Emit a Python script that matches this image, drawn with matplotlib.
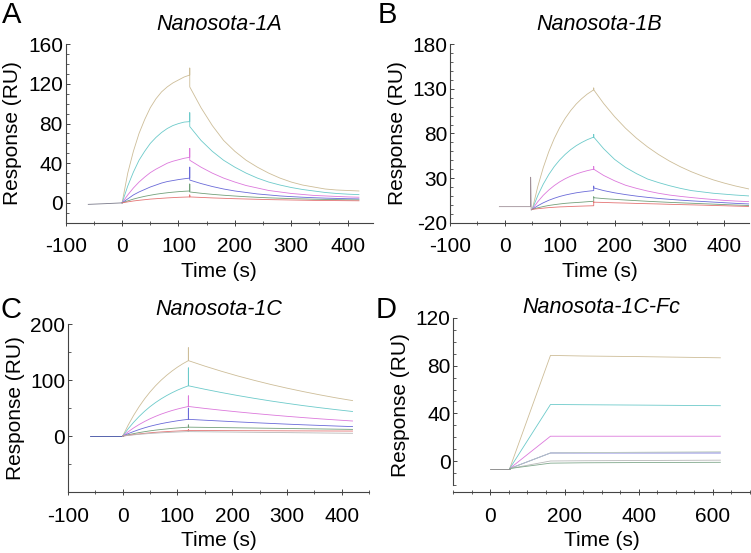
import matplotlib.pyplot as plt
from matplotlib.ticker import MultipleLocator, FixedLocator

plt.rcParams['font.family'] = ['Liberation Sans', 'DejaVu Sans']
plt.rcParams['axes.unicode_minus'] = False

# ---- panel A : Nanosota-1A ----
a_t_base = [-60, -30, 0]
a_base = [-1.5, -0.8, 0]
a_t_assoc = [0, 10, 20, 30, 40, 50, 60, 70, 80, 90, 100, 110, 120]
a_assoc = [
    [0, 30, 52, 70, 84, 96, 105, 112, 117, 121, 124, 127, 129],
    [0, 17, 31, 43, 52, 60, 66, 71, 75, 78, 80, 81.5, 82],
    [0, 8, 15, 21, 26, 30.5, 34, 37, 40, 42, 43.5, 45, 46],
    [0, 4, 8, 11, 13.5, 16, 18, 20, 21.5, 22.5, 23.5, 24.3, 25],
    [0, 2, 3.8, 5.3, 6.6, 7.7, 8.7, 9.5, 10.2, 10.8, 11.3, 11.7, 12],
    [0, 1, 1.9, 2.6, 3.2, 3.8, 4.2, 4.6, 5, 5.3, 5.6, 5.8, 6],
]
a_spike = [136, 91, 55, 36, 19, 8]
a_t_diss = [120, 140, 160, 180, 200, 220, 240, 260, 280, 300, 320, 340, 360, 380, 400, 420]
a_diss = [
    [117, 96, 78, 63, 52, 43, 36, 30, 25, 21, 18, 16, 14, 13, 12.5, 12],
    [77, 63, 52, 43, 36, 30, 25, 21, 18, 15.5, 13.5, 12, 10.5, 9.5, 8.8, 8.3],
    [43, 36, 30, 25, 21, 17.5, 15, 12.5, 11, 9.5, 8.5, 7.5, 7, 6.5, 6, 5.7],
    [23, 19.5, 16.5, 14, 12, 10.5, 9, 8, 7, 6.3, 5.7, 5.2, 4.8, 4.5, 4.2, 4],
    [11, 9.7, 8.6, 7.7, 6.9, 6.2, 5.6, 5.1, 4.7, 4.3, 4, 3.7, 3.5, 3.3, 3.1, 3],
    [6, 5.5, 5, 4.6, 4.2, 3.9, 3.6, 3.3, 3.1, 2.9, 2.7, 2.5, 2.4, 2.3, 2.2, 2.1],
]

# ---- panel B : Nanosota-1B ----
b_t_base = [-10, 47, 47, 48, 50]
b_base = [-2, -2, 31, -6, -5]
b_t_assoc = [50, 60, 70, 80, 90, 100, 110, 120, 130, 140, 150, 162]
b_assoc = [
    [-5, 20.5, 41.7, 59.5, 74.3, 86.7, 97, 105.7, 113, 119, 124.1, 129],
    [-5, 10.4, 23.2, 33.9, 42.9, 50.4, 56.6, 61.9, 66.3, 69.9, 73, 76],
    [-5, 3.5, 10.7, 16.6, 21.6, 25.8, 29.3, 32.2, 34.6, 36.6, 38.3, 40],
    [-5, -1, 2.3, 5.1, 7.4, 9.4, 11, 12.3, 13.5, 14.4, 15.2, 16],
    [-5, -3.3, -1.9, -0.7, 0.2, 1, 1.7, 2.2, 2.6, 3, 3.5, 4],
    [-5, -4.3, -3.7, -3.1, -2.7, -2.3, -2.1, -1.8, -1.6, -1.4, -1.2, -1],
]
b_spike = [131, 79, 43, 21, 9, 3.5]
b_t_diss = [162, 180, 200, 220, 240, 260, 280, 300, 320, 340, 360, 380, 400, 420, 445]
b_diss = [
    [129, 113.7, 98.9, 85.9, 74.7, 65, 56.5, 49.1, 42.7, 37.1, 32.3, 28, 24.4, 21.2, 17.8],
    [76, 63, 51, 42, 35, 29, 25, 21.5, 18.5, 16, 14.5, 13, 12, 11, 10],
    [40, 33, 27, 22, 18.5, 15.5, 13, 11, 9.5, 8.2, 7, 6, 5, 4.3, 3.6],
    [19, 16, 13.5, 11.5, 9.8, 8.4, 7.2, 6.2, 5.3, 4.5, 3.8, 3.1, 2.4, 1.7, 1],
    [8, 7, 6.2, 5.4, 4.7, 4, 3.4, 2.8, 2.3, 1.8, 1.3, 0.8, 0.3, -0.2, -0.7],
    [3, 2.7, 2.3, 2, 1.6, 1.3, 1, 0.6, 0.3, 0, -0.3, -0.7, -1, -1.4, -1.8],
]

# ---- panel C : Nanosota-1C ----
c_t_base = [-60, 0]
c_base = [0, 0]
c_t_assoc = [0, 10, 20, 30, 40, 50, 60, 70, 80, 90, 100, 110, 120]
c_assoc = [
    [0, 19.6, 37.1, 52.7, 66.6, 79, 90, 99.8, 108.5, 116.3, 123.3, 129.5, 135],
    [0, 13.1, 24.7, 35.1, 44.4, 52.7, 60, 66.5, 72.3, 77.5, 82.2, 86.3, 90],
    [0, 7.7, 14.6, 20.7, 26.1, 31, 35.3, 39.2, 42.6, 45.7, 48.4, 50.8, 53],
    [0, 4.4, 8.2, 11.7, 14.8, 17.6, 20, 22.2, 24.1, 25.8, 27.4, 28.8, 30],
    [0, 2.3, 4.4, 6.3, 7.9, 9.4, 10.7, 11.8, 12.8, 13.8, 14.6, 15.3, 16],
    [0, 1.5, 2.7, 3.9, 4.9, 5.9, 6.7, 7.4, 8, 8.6, 9.1, 9.6, 10],
    [0, 1.2, 2.2, 3.1, 3.9, 4.7, 5.3, 5.9, 6.4, 6.9, 7.3, 7.7, 8],
]
c_spike = [158, 122, 72, 50, 20, 12, 9]
c_t_diss = [120, 150, 180, 210, 240, 270, 300, 330, 360, 390, 420]
c_diss = [
    [135, 125.2, 116.1, 107.6, 99.8, 92.5, 85.8, 79.6, 73.8, 68.4, 63.5],
    [90, 83.8, 78, 72.6, 67.6, 62.9, 58.6, 54.5, 50.8, 47.3, 44],
    [53, 49.5, 46.3, 43.3, 40.5, 37.9, 35.4, 33.1, 30.9, 28.9, 27],
    [30, 28.4, 26.9, 25.4, 24, 22.7, 21.4, 20.2, 19.1, 18, 17],
    [16, 15.6, 15.2, 14.8, 14.4, 14, 13.6, 13.2, 12.8, 12.4, 12],
    [10, 9.9, 9.8, 9.7, 9.6, 9.5, 9.4, 9.3, 9.2, 9.1, 9],
    [8, 7.7, 7.4, 7.1, 6.8, 6.5, 6.2, 5.9, 5.6, 5.3, 5],
]

# ---- panel D : Nanosota-1C-Fc ----
d_t_base = [0, 52]
d_base = [-6, -6]
d_t = [52, 162, 250, 400, 620]
d_curves = [
    [-6, 88.5, 88, 87.5, 86.5],
    [-6, 47.5, 47.3, 47, 46.5],
    [-6, 21, 21, 21, 21],
    [-6, 7, 7, 7, 7],
    [-6, 7, 7.3, 7.6, 8],
    [-6, 0.3, 0.5, 0.7, 1],
    [-6, -1.5, -1.2, -1, -0.8],
]

colors6 = ['#cdbd98', '#6ccaca', '#dc78dc', '#6a6ad8', '#72a07a', '#e47474']
colors7 = colors6 + ['#b8b8b8']
colors_d = ['#cdbd98', '#6ccaca', '#dc78dc', '#6a6ad8', '#bccbbc', '#b8b8b8', '#80a88c']
LW = 0.6


def style_axes(ax, xlim, ylim, xmaj, xmin, ymaj, ymin, ybounds=None):
    ax.set_xlim(*xlim)
    ax.set_ylim(*ylim)
    for s in ['top', 'right']:
        ax.spines[s].set_visible(False)
    for s in ['left', 'bottom']:
        ax.spines[s].set_color('#444444')
        ax.spines[s].set_linewidth(0.8)
    if ybounds is not None:
        ax.spines['left'].set_bounds(*ybounds)
    ax.xaxis.set_major_locator(FixedLocator(xmaj))
    ax.xaxis.set_minor_locator(MultipleLocator(xmin))
    ax.yaxis.set_major_locator(FixedLocator(ymaj))
    ax.yaxis.set_minor_locator(FixedLocator(ymin))
    ax.tick_params(axis='x', which='major', direction='inout', length=5,
                   width=0.7, color='#444444', labelsize=15, pad=8)
    ax.tick_params(axis='x', which='minor', direction='inout', length=3,
                   width=0.6, color='#444444')
    ax.tick_params(axis='y', which='major', direction='in', length=3,
                   width=0.7, color='#444444', labelsize=15, pad=2)
    ax.tick_params(axis='y', which='minor', direction='in', length=2,
                   width=0.6, color='#444444')
    ax.set_xlabel('Time (s)', fontsize=15, labelpad=4)
    ax.set_ylabel('Response (RU)', fontsize=15, labelpad=4)


def draw_kinetics(ax, t_assoc, assoc, spike, t_diss, diss, colors):
    for i in range(len(assoc)):
        t = list(t_assoc) + [t_assoc[-1]] + list(t_diss)
        v = list(assoc[i]) + [spike[i]] + list(diss[i])
        ax.plot(t, v, color=colors[i], lw=LW)


fig = plt.figure(figsize=(7.51, 5.53), dpi=100)

axA = fig.add_axes([0.0875, 0.5973, 0.4092, 0.3226])
axA.plot(a_t_base, a_base, color='#7a7a8a', lw=LW)
draw_kinetics(axA, a_t_assoc, a_assoc, a_spike, a_t_diss, a_diss, colors6)
style_axes(axA, (-100, 445), (-20, 160), [-100, 0, 100, 200, 300, 400], 50,
           [0, 40, 80, 120, 160], list(range(-20, 161, 10)))
axA.set_title('Nanosota-1A', fontsize=15.5, style='italic', pad=10)

axB = fig.add_axes([0.5992, 0.5973, 0.3981, 0.3226])
axB.plot(b_t_base, b_base, color='#a09098', lw=LW)
draw_kinetics(axB, b_t_assoc, b_assoc, b_spike, b_t_diss, b_diss, colors6)
style_axes(axB, (-100, 445), (-20, 180), [-100, 0, 100, 200, 300, 400], 50,
           [-20, 30, 80, 130, 180], list(range(-20, 181, 10)))
axB.set_title('Nanosota-1B', fontsize=15.5, style='italic', pad=10)

axC = fig.add_axes([0.0905, 0.1103, 0.4008, 0.3033])
axC.plot(c_t_base, c_base, color='#3a4aa0', lw=LW)
draw_kinetics(axC, c_t_assoc, c_assoc, c_spike, c_t_diss, c_diss, colors7)
style_axes(axC, (-100, 450), (-100, 200), [-100, 0, 100, 200, 300, 400], 50,
           [0, 100, 200], list(range(-100, 201, 50)))
axC.set_title('Nanosota-1C', fontsize=15.5, style='italic', pad=6.5)

axD = fig.add_axes([0.6036, 0.1103, 0.3951, 0.3152])
axD.plot(d_t_base, d_base, color='#808080', lw=LW)
for i in range(len(d_curves)):
    axD.plot(d_t, d_curves[i], color=colors_d[i], lw=LW)
style_axes(axD, (-100, 700), (-25.6, 120), [0, 200, 400, 600], 50,
           [0, 40, 80, 120], list(range(-20, 121, 10)), ybounds=(-20, 120))
axD.set_title('Nanosota-1C-Fc', fontsize=15.5, style='italic', pad=2)

for x, y, s in [(0.003, 0.958, 'A'), (0.503, 0.958, 'B'),
                (0.001, 0.4255, 'C'), (0.5003, 0.4255, 'D')]:
    fig.text(x, y, s, fontsize=21, ha='left', va='baseline')

fig.savefig('out.png', dpi=100)
